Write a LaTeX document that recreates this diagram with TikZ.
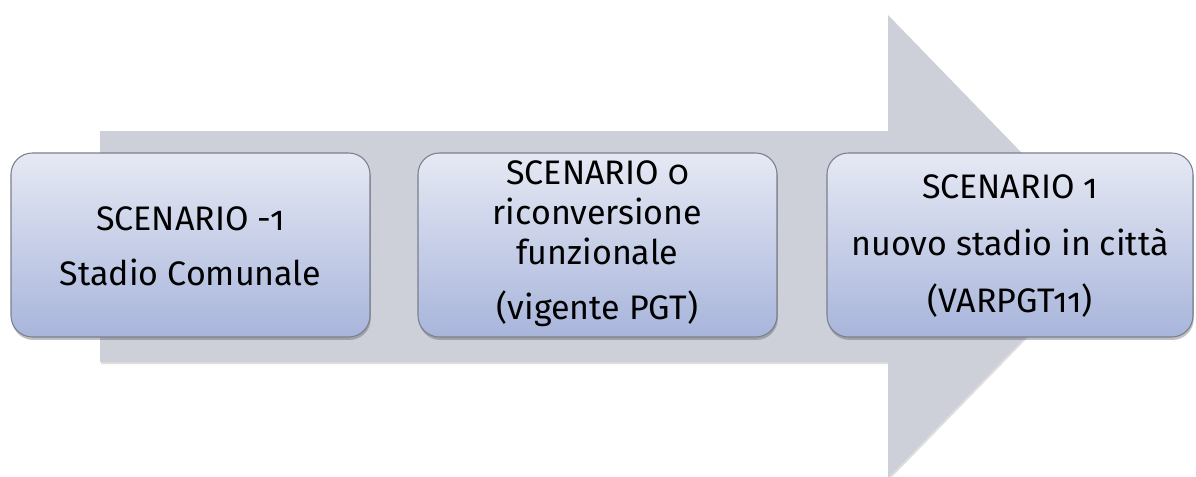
\documentclass[tikz,border=0pt]{standalone}
\usepackage{fontspec}
\setmainfont[Numbers=OldStyle]{Fira Sans}
\usetikzlibrary{shadows}
\definecolor{arrowgray}{HTML}{CDD0D9}
\definecolor{boxtop}{HTML}{E6E9F4}
\definecolor{boxbot}{HTML}{A8B5DB}
\definecolor{boxline}{HTML}{7A808E}
\tikzset{
  scenbox/.style={rectangle, rounded corners=16pt, draw=boxline, line width=0.8pt,
    top color=boxtop, bottom color=boxbot,
    drop shadow={shadow xshift=0.6pt, shadow yshift=-2.2pt, opacity=0.35, fill=black!70},
    minimum height=138pt, inner sep=0pt},
  scentext/.style={align=center, font=\fontsize{25.5}{30}\selectfont, text=black, inner sep=0pt}
}
\begin{document}
\begin{tikzpicture}[x=0.75pt,y=-0.75pt]
\useasboundingbox (0,0) rectangle (1196,476);
\fill[white] (0,0) rectangle (1196,476);
% big arrow
\fill[black!25, opacity=0.5] (101,133) -- (889,133) -- (889,17) -- (1114,249) -- (889,480) -- (889,364) -- (101,364) -- cycle;
\fill[arrowgray] (100,131) -- (888,131) -- (888,15) -- (1113,247) -- (888,478) -- (888,362) -- (100,362) -- cycle;
% boxes
\node[scenbox, minimum width=269.25pt] (b1) at (190.5,245) {};
\node[scenbox, minimum width=269.25pt] (b2) at (597.5,245) {};
\node[scenbox, minimum width=274.5pt] (b3) at (1010,245) {};
% texts
\node[scentext] (t1) at (190.5,246) {SCENARIO -1\\[11pt]Stadio Comunale};
\node[scentext] (t2) at (597.5,244) {SCENARIO 0\\riconversione\\funzionale\\[11pt](vigente PGT)};
\node[scentext] (t3) at (1010,246) {SCENARIO 1\\[13pt]nuovo stadio in città\\[13pt](VARPGT11)};
\end{tikzpicture}
\end{document}
